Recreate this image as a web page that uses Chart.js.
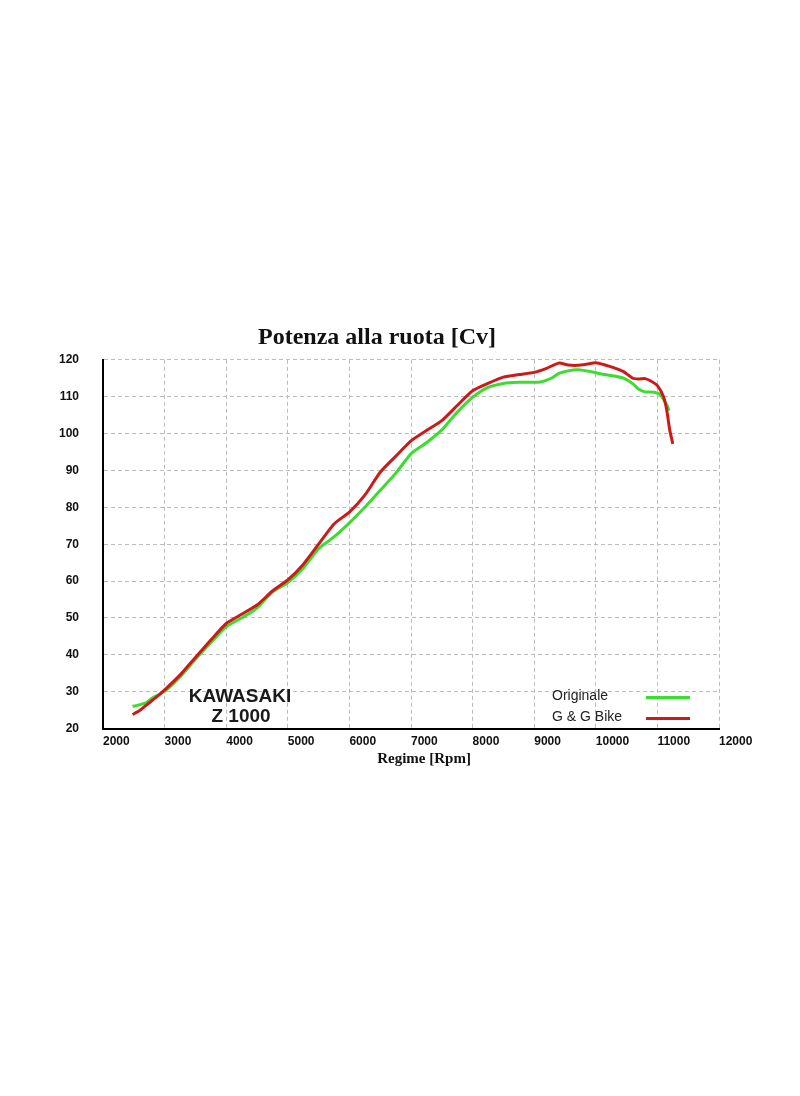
<!DOCTYPE html>
<html>
<head>
<meta charset="utf-8">
<script src="https://cdn.jsdelivr.net/npm/chart.js@4.4.1/dist/chart.umd.min.js"></script>
<style>
html,body{margin:0;padding:0;background:#fff;}
#wrap{position:absolute;left:0;top:310px;width:760px;height:475px;}
</style>
</head>
<body>
<div id="wrap"><canvas id="powerChart"></canvas></div>
<script>

/* ---------------- DATA ---------------- */

const rpmTicks = [2000,3000,4000,5000,6000,7000,8000,9000,10000,11000,12000]
const cvTicks = [20,30,40,50,60,70,80,90,100,110,120]

const rpmOriginale = [2480,2600,2700,2800,3000,3250,3500,3750,4000,4250,4400,4500,4750,5000,5250,5500,5750,6000,6250,6500,6750,7000,7250,7500,7750,8000,8250,8500,8750,9000,9100,9200,9300,9400,9550,9700,9850,10000,10150,10300,10450,10600,10700,10800,10950,11050,11150,11190]
const cvOriginale = [26.0,26.5,27.0,28.3,30.1,34.0,38.8,43.3,47.6,50.0,51.5,52.7,57.0,59.6,63.5,68.8,72.0,75.8,80.0,84.6,89.2,94.5,97.5,101.0,105.8,109.8,112.5,113.6,113.9,113.9,114.0,114.5,115.2,116.3,117.0,117.3,117.0,116.5,116.0,115.6,115.0,113.5,112.0,111.3,111.2,110.5,107.8,106.2]

const rpmGG = [2480,2600,2750,2900,3000,3250,3500,3750,4000,4250,4500,4750,5000,5250,5500,5750,6000,6250,6500,6750,7000,7250,7500,7750,8000,8250,8500,8750,9000,9200,9400,9550,9700,9850,10000,10150,10300,10450,10600,10700,10800,10900,11000,11100,11150,11200,11250]
const cvGG = [23.8,25.0,27.0,29.0,30.5,34.5,39.3,44.0,48.5,51.0,53.5,57.3,60.3,64.5,70.0,75.5,78.7,83.3,89.5,93.8,98.0,100.8,103.5,107.6,111.6,113.6,115.3,116.0,116.6,117.7,119.1,118.6,118.5,118.8,119.2,118.6,117.8,116.8,115.0,114.8,114.9,114.2,113.0,110.0,106.5,101.0,97.2]

const seriesNames = ["Originale","G & G Bike"]
const seriesColors = ["#3ddc30","#cc1a1a"]

const toPoints = (xs,ys) => xs.map((x,i)=>({x:x,y:ys[i]}))


/* ---------------- EXTRA TEXT ---------------- */

const extraText = {
id:"extraText",
afterDatasetsDraw(chart){

const ctx = chart.ctx
const a = chart.chartArea

ctx.save()

// bike name
ctx.fillStyle = "#1a1a1a"
ctx.font = "bold 19px 'Liberation Sans', Arial, sans-serif"
ctx.textAlign = "center"
ctx.textBaseline = "middle"
ctx.fillText("KAWASAKI", a.left+137, a.bottom-32)
ctx.fillText("Z 1000", a.left+138, a.bottom-12)

// legend: text then line sample
ctx.font = "14px 'Liberation Sans', Arial, sans-serif"
ctx.textAlign = "left"
ctx.fillStyle = "#222"
chart.data.datasets.forEach((ds,i)=>{
const y = a.bottom - 32 + i*21
ctx.fillText(ds.label, a.left+449, y)
ctx.strokeStyle = ds.borderColor
ctx.lineWidth = 3
ctx.beginPath()
ctx.moveTo(a.left+543, y+1)
ctx.lineTo(a.left+587, y+1)
ctx.stroke()
})

// x axis title
ctx.fillStyle = "#111"
ctx.font = "bold 15px 'Liberation Serif', 'Times New Roman', serif"
ctx.textAlign = "center"
ctx.fillText("Regime [Rpm]", (a.left+a.right)/2+13, a.bottom+31)

ctx.restore()

}
}


/* ---------------- CHART ---------------- */

new Chart(document.getElementById("powerChart"),{

type:"line",

data:{
datasets:[
{
label:seriesNames[0],
data:toPoints(rpmOriginale,cvOriginale),
borderColor:seriesColors[0],
borderWidth:3,
pointRadius:0,
tension:0.2,
order:2
},
{
label:seriesNames[1],
data:toPoints(rpmGG,cvGG),
borderColor:seriesColors[1],
borderWidth:3,
pointRadius:0,
tension:0.2,
order:1
}
]
},

options:{
responsive:true,
maintainAspectRatio:false,
animation:false,
layout:{padding:{top:8,right:41,bottom:30,left:35}},

plugins:{
legend:{display:false},
tooltip:{enabled:false},
title:{
display:true,
text:"Potenza alla ruota [Cv]",
color:"#111",
font:{family:"'Liberation Serif', 'Times New Roman', serif",size:24,weight:"bold"},
padding:{top:5,bottom:8}
}
},

scales:{
x:{
type:"linear",
min:rpmTicks[0],
max:rpmTicks[rpmTicks.length-1],
afterBuildTicks:(s)=>{ s.ticks = rpmTicks.map(v=>({value:v})) },
grid:{color:"#bcbcbc",lineWidth:1,drawTicks:false},
border:{display:true,color:"#000",width:2,dash:[4,3]},
ticks:{
align:"start",
padding:6,
color:"#111",
font:{family:"'Liberation Sans', Arial, sans-serif",size:12,weight:"bold"},
callback:(v)=>String(v)
}
},
y:{
min:cvTicks[0],
max:cvTicks[cvTicks.length-1],
afterBuildTicks:(s)=>{ s.ticks = cvTicks.map(v=>({value:v})) },
grid:{color:"#bcbcbc",lineWidth:1,drawTicks:false},
border:{display:true,color:"#000",width:2,dash:[4,3]},
ticks:{
padding:24,
color:"#111",
font:{family:"'Liberation Sans', Arial, sans-serif",size:12,weight:"bold"},
callback:(v)=>String(v)
}
}
}

},

plugins:[extraText]

})

</script>
</body>
</html>
